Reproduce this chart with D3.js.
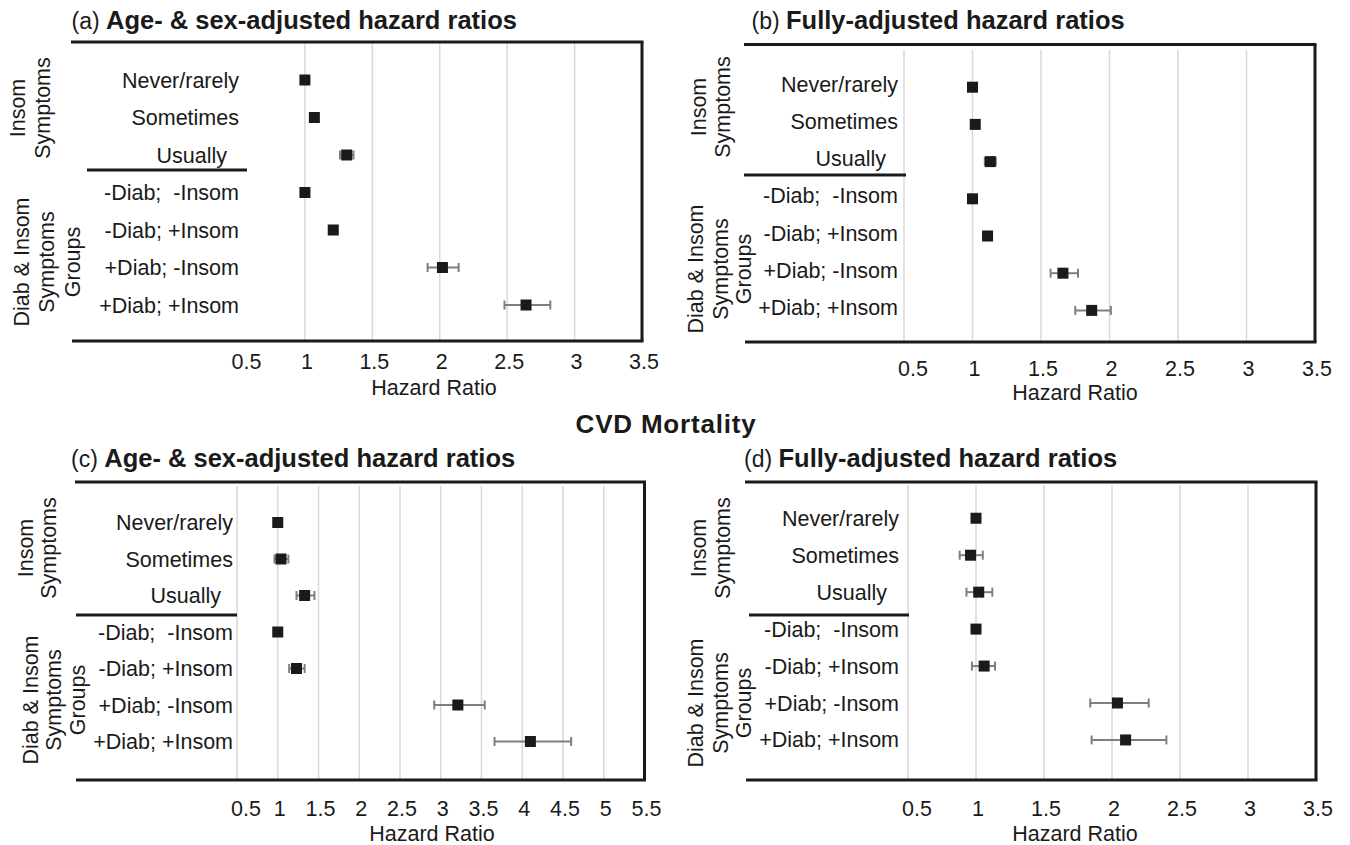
<!DOCTYPE html>
<html>
<head>
<meta charset="utf-8">
<script src="https://cdn.jsdelivr.net/npm/d3@7"></script>
<style>
  body { margin: 0; background: #fff; }
  svg { display: block; font-family: "Liberation Sans", Arial, sans-serif; }
  text { white-space: pre; fill: #1a1a1a; }
</style>
</head>
<body>
<svg width="1350" height="845"></svg>
<script>
// categories, top to bottom
const categories = ["Never/rarely", "Sometimes", "Usually\u00a0\u00a0", "-Diab;\u00a0\u00a0-Insom",
  "-Diab; +Insom", "+Diab; -Insom", "+Diab; +Insom"];
const groupNames = [["Insom", "Symptoms"], ["Diab & Insom", "Symptoms", "Groups"]];
const ticks35 = [0.5, 1, 1.5, 2, 2.5, 3, 3.5];
const ticks55 = [0.5, 1, 1.5, 2, 2.5, 3, 3.5, 4, 4.5, 5, 5.5];

// (a) all-cause, age & sex adjusted
const hrA = [1.00, 1.07, 1.31, 1.00, 1.21, 2.02, 2.64];
const loA = [1.00, 1.05, 1.26, 1.00, 1.19, 1.91, 2.48];
const hiA = [1.00, 1.09, 1.36, 1.00, 1.24, 2.14, 2.82];
// (b) all-cause, fully adjusted
const hrB = [1.00, 1.02, 1.13, 1.00, 1.11, 1.66, 1.87];
const loB = [1.00, 1.00, 1.09, 1.00, 1.08, 1.57, 1.75];
const hiB = [1.00, 1.04, 1.17, 1.00, 1.14, 1.77, 2.01];
// (c) CVD, age & sex adjusted
const hrC = [1.00, 1.04, 1.33, 1.00, 1.23, 3.21, 4.10];
const loC = [1.00, 0.96, 1.23, 1.00, 1.14, 2.92, 3.66];
const hiC = [1.00, 1.13, 1.45, 1.00, 1.33, 3.54, 4.60];
// (d) CVD, fully adjusted
const hrD = [1.00, 0.96, 1.02, 1.00, 1.06, 2.04, 2.10];
const loD = [1.00, 0.88, 0.93, 1.00, 0.97, 1.84, 1.85];
const hiD = [1.00, 1.05, 1.12, 1.00, 1.14, 2.27, 2.40];

const svg = d3.select("svg");
const ink = "#1a1a1a";

// layout of the four panels
const panels = [
  { tag: "(a)", title: "Age- & sex-adjusted hazard ratios", hr: hrA, lo: loA, hi: hiA, ticks: ticks35,
    tx: 71.5, ty: 28.5, fl: 71, fr: 642, ft: 42, fb: 341, plotT: 42.5, step: 37.5, gridT: 43,
    xr: [237.5, 642], first: false, sepY: 170, sep: [87, 247], labR: 239, labDy: 0,
    tickY: 369, axY: 395, axX: 434,
    g: [{ cy: 108, b: [25, 50] }, { cy: 262, b: [29, 54, 80] }] },
  { tag: "(b)", title: "Fully-adjusted hazard ratios", hr: hrB, lo: loB, hi: hiB, ticks: ticks35,
    tx: 751.5, ty: 28.5, fl: 744, fr: 1315, ft: 44.5, fb: 342, plotT: 50, step: 37.2, gridT: 50,
    xr: [904, 1315], first: true, sepY: 175, sep: [744, 906], labR: 898, labDy: -3,
    tickY: 376, axY: 400, axX: 1075,
    g: [{ cy: 107, b: [706, 730] }, { cy: 269, b: [703, 728, 751] }] },
  { tag: "(c)", title: "Age- & sex-adjusted hazard ratios", hr: hrC, lo: loC, hi: hiC, ticks: ticks55,
    tx: 71, ty: 466.5, fl: 75, fr: 644.5, ft: 482, fb: 780, plotT: 486, step: 36.5, gridT: 486,
    xr: [237, 644.5], first: true, sepY: 615, sep: [76, 237], labR: 233, labDy: 0,
    tickY: 816, axY: 841, axX: 432,
    g: [{ cy: 548, b: [33, 56] }, { cy: 700, b: [38, 61, 85] }] },
  { tag: "(d)", title: "Fully-adjusted hazard ratios", hr: hrD, lo: loD, hi: hiD, ticks: ticks35,
    tx: 744, ty: 466.5, fl: 745, fr: 1316, ft: 482, fb: 780, plotT: 481.3, step: 36.95, gridT: 485,
    xr: [908, 1316], first: true, sepY: 615, sep: [749, 909], labR: 899, labDy: 0,
    tickY: 816, axY: 841, axX: 1075,
    g: [{ cy: 548, b: [706, 730] }, { cy: 703, b: [703, 728, 751] }] }
];

svg.append("text")
  .attr("x", 666).attr("y", 433)
  .attr("text-anchor", "middle")
  .attr("font-size", 26).attr("font-weight", "bold")
  .attr("letter-spacing", 0.8)
  .text("CVD Mortality");

panels.forEach(p => {
  const g = svg.append("g");
  const x = d3.scaleLinear().domain([p.ticks[0], p.ticks[p.ticks.length - 1]]).range(p.xr);
  const y = d3.scaleLinear().domain([0, 8]).range([p.plotT, p.plotT + 8 * p.step]);

  // title
  const t = g.append("text").attr("x", p.tx).attr("y", p.ty);
  t.append("tspan").attr("font-size", 23).text(p.tag + " ");
  t.append("tspan").attr("font-size", 25.5).attr("font-weight", "bold").text(p.title);

  // gridlines
  g.selectAll(".grid")
    .data(p.ticks.filter((d, i) => (i > 0 || p.first) && i < p.ticks.length - 1))
    .join("line")
    .attr("x1", d => x(d)).attr("x2", d => x(d))
    .attr("y1", p.gridT).attr("y2", p.fb)
    .attr("stroke", "#d9d9d9").attr("stroke-width", 1.5);

  // frame: top, right, bottom
  g.append("line").attr("x1", p.fl).attr("x2", p.fr + 1.5).attr("y1", p.ft).attr("y2", p.ft)
    .attr("stroke", ink).attr("stroke-width", 3);
  g.append("line").attr("x1", p.fr).attr("x2", p.fr).attr("y1", p.ft).attr("y2", p.fb)
    .attr("stroke", ink).attr("stroke-width", 3);
  g.append("line").attr("x1", p.fl + 1).attr("x2", p.fr + 1.5).attr("y1", p.fb).attr("y2", p.fb)
    .attr("stroke", ink).attr("stroke-width", 3);

  // separator between the two groups
  g.append("line").attr("x1", p.sep[0]).attr("x2", p.sep[1]).attr("y1", p.sepY).attr("y2", p.sepY)
    .attr("stroke", ink).attr("stroke-width", 3);

  // x tick labels
  g.selectAll(".tick")
    .data(p.ticks)
    .join("text")
    .attr("x", (d, i) => x(d) + (i === 0 ? 9 : 2))
    .attr("y", p.tickY)
    .attr("text-anchor", "middle")
    .attr("font-size", 21.5)
    .text(d => String(d));

  g.append("text")
    .attr("x", p.axX).attr("y", p.axY)
    .attr("text-anchor", "middle").attr("font-size", 21.5)
    .text("Hazard Ratio");

  // category labels
  g.selectAll(".cat")
    .data(categories)
    .join("text")
    .attr("x", p.labR)
    .attr("y", (d, i) => y(i + 1) + p.labDy)
    .attr("dy", "0.35em")
    .attr("text-anchor", "end")
    .attr("font-size", 21.5)
    .text(d => d);

  // group labels (rotated)
  groupNames.forEach((lines, k) => {
    const gl = p.g[k];
    lines.forEach((s, j) => {
      g.append("text")
        .attr("transform", `translate(${gl.b[j]},${gl.cy}) rotate(-90)`)
        .attr("text-anchor", "middle")
        .attr("font-size", 21.5)
        .text(s);
    });
  });

  // error bars
  const rows = p.hr.map((d, i) => ({ hr: d, lo: p.lo[i], hi: p.hi[i], r: i + 1 }));
  const eb = g.selectAll(".eb").data(rows).join("g").attr("stroke", "#7f7f7f").attr("stroke-width", 2);
  eb.append("line")
    .attr("x1", d => x(d.lo)).attr("x2", d => x(d.hi))
    .attr("y1", d => y(d.r)).attr("y2", d => y(d.r));
  eb.append("line")
    .attr("x1", d => x(d.lo)).attr("x2", d => x(d.lo))
    .attr("y1", d => y(d.r) - 4.5).attr("y2", d => y(d.r) + 4.5);
  eb.append("line")
    .attr("x1", d => x(d.hi)).attr("x2", d => x(d.hi))
    .attr("y1", d => y(d.r) - 4.5).attr("y2", d => y(d.r) + 4.5);

  // point estimates
  g.selectAll(".pt").data(rows).join("rect")
    .attr("x", d => x(d.hr) - 5.5).attr("y", d => y(d.r) - 5.5)
    .attr("width", 11).attr("height", 11)
    .attr("fill", ink);
});
</script>
</body>
</html>
